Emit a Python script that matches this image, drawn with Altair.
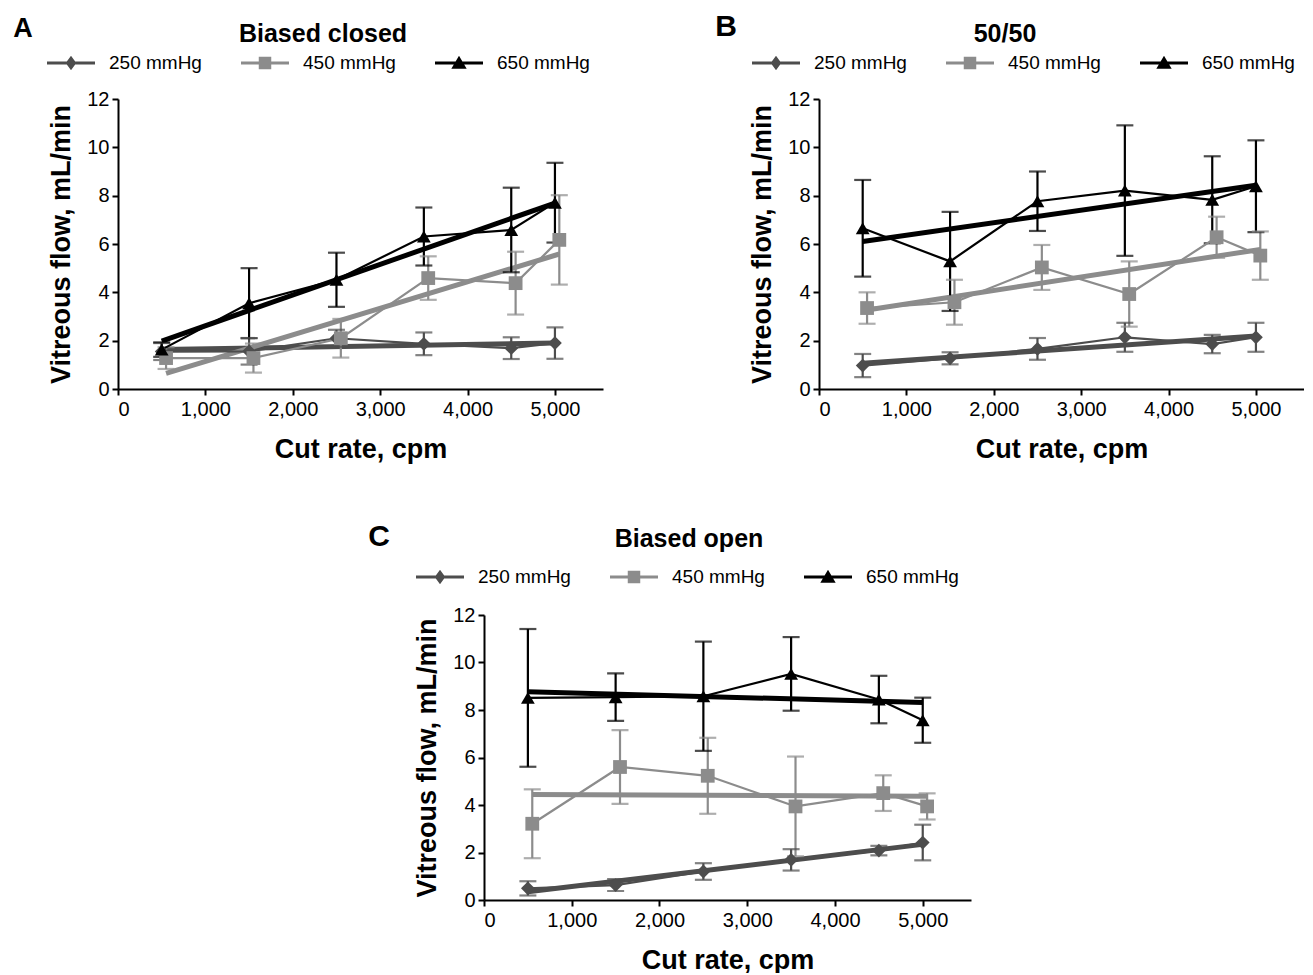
import altair as alt
import pandas as pd

FONT = "Liberation Sans"

cut_rate = [500, 1500, 2500, 3500, 4500, 5000]
cut_rate_450 = [550, 1550, 2550, 3550, 4550, 5050]
series_names = ["250 mmHg", "450 mmHg", "650 mmHg"]
series_colors = ["#4d4d4d", "#8c8c8c", "#000000"]
markers = ["diamond", "square", "triangle-up"]
legend_paths = [
    "M-1,-0.06H1V0.06H-1Z M0,-0.3L0.22,0L0,0.3L-0.22,0Z",
    "M-1,-0.06H1V0.06H-1Z M-0.26,-0.26H0.26V0.26H-0.26Z",
    "M-1,-0.06H1V0.06H-1Z M0,-0.3L0.32,0.24L-0.32,0.24Z",
]

# Panel A: Biased closed
a_250 = [1.55, 1.56, 2.10, 1.87, 1.69, 1.90]
a_250_err = [0.35, 0.55, 0.35, 0.47, 0.45, 0.65]
a_450 = [1.28, 1.28, 2.10, 4.59, 4.38, 6.17]
a_450_err = [0.45, 0.60, 0.80, 0.90, 1.30, 1.85]
a_650 = [1.63, 3.55, 4.52, 6.31, 6.58, 7.71]
a_650_err = [0.30, 1.45, 1.12, 1.20, 1.75, 1.65]

# Panel B: 50/50
b_250 = [0.97, 1.27, 1.66, 2.14, 1.86, 2.14]
b_250_err = [0.48, 0.25, 0.45, 0.60, 0.38, 0.60]
b_450 = [3.35, 3.59, 5.03, 3.93, 6.28, 5.52]
b_450_err = [0.65, 0.93, 0.93, 1.35, 0.85, 1.00]
b_650 = [6.65, 5.28, 7.77, 8.21, 7.83, 8.39]
b_650_err = [2.00, 2.05, 1.23, 2.70, 1.80, 1.90]

# Panel C: Biased open
c_250 = [0.49, 0.63, 1.20, 1.69, 2.08, 2.42]
c_250_err = [0.30, 0.25, 0.35, 0.45, 0.20, 0.75]
c_450 = [3.21, 5.60, 5.23, 3.94, 4.50, 3.94]
c_450_err = [1.45, 1.55, 1.60, 2.10, 0.75, 0.55]
c_650 = [8.51, 8.54, 8.58, 9.52, 8.44, 7.57]
c_650_err = [2.90, 1.00, 2.30, 1.55, 1.00, 0.95]

x_ticks = [0, 1000, 2000, 3000, 4000, 5000]
y_ticks = [0, 2, 4, 6, 8, 10, 12]


def build_df(v250, e250, v450, e450, v650, e650):
    rows = []
    for i, (vals, errs, xs) in enumerate(
        [(v250, e250, cut_rate), (v450, e450, cut_rate_450), (v650, e650, cut_rate)]
    ):
        for x, y, e in zip(xs, vals, errs):
            rows.append(dict(x=x, y=y, err=e, series=series_names[i],
                             col=series_colors[i], mk=markers[i], order=i))
    return pd.DataFrame(rows)


def panel(df, letter, title, letter_pos, letter_size, title_pos, legend_pos, width, height):
    xenc = alt.X("x:Q", scale=alt.Scale(domain=[0, 5550], nice=False),
                 axis=alt.Axis(values=x_ticks, format=",d", title="Cut rate, cpm"))
    yenc = alt.Y("y:Q", scale=alt.Scale(domain=[0, 12], nice=False),
                 axis=alt.Axis(values=y_ticks, title="Vitreous flow, mL/min"))
    col = alt.Color("col:N", scale=None)
    base = alt.Chart(df)

    reg = base.transform_regression("x", "y", groupby=["series", "col"]).mark_line(
        strokeWidth=5).encode(x=xenc, y=yenc, color=col, detail="series:N")
    err = base.transform_calculate(lo="datum.y - datum.err", hi="datum.y + datum.err")
    rules = err.mark_rule(strokeWidth=2.2).encode(
        x=xenc, y=alt.Y("lo:Q"), y2="hi:Q", color=col)
    cap_lo = err.mark_tick(thickness=2.2, size=17, orient="horizontal").encode(
        x=xenc, y=alt.Y("lo:Q"), color=col)
    cap_hi = err.mark_tick(thickness=2.2, size=17, orient="horizontal").encode(
        x=xenc, y=alt.Y("hi:Q"), color=col)
    lines = base.mark_line(strokeWidth=2.2).encode(
        x=xenc, y=yenc, color=col, detail="series:N", order="x:Q")
    pts = base.mark_point(filled=True, size=190, opacity=1).encode(
        x=xenc, y=yenc, color=col, shape=alt.Shape("mk:N", scale=None))

    leg = alt.Legend(orient="none", legendX=legend_pos[0], legendY=legend_pos[1],
                     direction="horizontal", title=None, symbolSize=2304,
                     symbolStrokeWidth=0, labelFontSize=19, labelFont=FONT,
                     labelColor="black", labelOffset=14, columnPadding=39,
                     padding=0, labelLimit=200)
    legend_layer = base.transform_filter("false").mark_point(filled=True, opacity=1).encode(
        fill=alt.Fill("series:N", scale=alt.Scale(domain=series_names, range=series_colors), legend=leg),
        shape=alt.Shape("series:N", scale=alt.Scale(domain=series_names, range=legend_paths), legend=leg),
    )

    letter_txt = alt.Chart(pd.DataFrame({"t": [letter]})).mark_text(
        font=FONT, fontSize=letter_size, fontWeight="bold", align="center",
        baseline="alphabetic", color="black").encode(
        text="t:N", x=alt.value(letter_pos[0]), y=alt.value(letter_pos[1]))
    title_txt = alt.Chart(pd.DataFrame({"t": [title]})).mark_text(
        font=FONT, fontSize=25, fontWeight="bold", align="center",
        baseline="alphabetic", color="black").encode(
        text="t:N", x=alt.value(title_pos[0]), y=alt.value(title_pos[1]))

    return alt.layer(reg, rules, cap_lo, cap_hi, lines, pts, legend_layer,
                     letter_txt, title_txt).properties(width=width, height=height)


df_a = build_df(a_250, a_250_err, a_450, a_450_err, a_650, a_650_err)
df_b = build_df(b_250, b_250_err, b_450, b_450_err, b_650, b_650_err)
df_c = build_df(c_250, c_250_err, c_450, c_450_err, c_650, c_650_err)

pa = panel(df_a, "A", "Biased closed", (-95, -62), 27, (205, -57), (-71, -60), 485, 290)
pb = panel(df_b, "B", "50/50", (-93, -63), 30, (186, -57), (-67, -60), 485, 290)
pc = panel(df_c, "C", "Biased open", (-105, -69), 30, (205, -68), (-68, -62), 487, 285)

spacer = alt.Chart(pd.DataFrame({"v": [0]})).mark_point(opacity=0).encode(
    x=alt.X("v:Q", axis=None), y=alt.Y("v:Q", axis=None)).properties(width=250, height=10)

row1 = alt.hconcat(pa, pb, spacing=112).resolve_scale(
    fill="independent", shape="independent").resolve_legend(fill="independent", shape="independent")
row2 = alt.hconcat(spacer, pc, spacing=0).resolve_scale(
    fill="independent", shape="independent").resolve_legend(fill="independent", shape="independent")

chart = alt.vconcat(row1, row2, spacing=60).resolve_scale(
    fill="independent", shape="independent").resolve_legend(
    fill="independent", shape="independent").properties(
    padding={"left": 5, "top": 4, "right": 0, "bottom": 0},
    background="white",
).configure_view(stroke=None).configure_axis(
    labelFont=FONT, titleFont=FONT, labelFontSize=20, titleFontSize=27,
    titleFontWeight="bold", labelColor="black", titleColor="black",
    domainColor="black", domainWidth=2, tickColor="black", tickWidth=2,
    tickSize=6, grid=False, labelPadding=3,
).configure_axisY(titlePadding=11).configure_axisX(titlePadding=17, labelPadding=4)

chart.save("out.html", embed_options={"renderer": "svg", "actions": False})
